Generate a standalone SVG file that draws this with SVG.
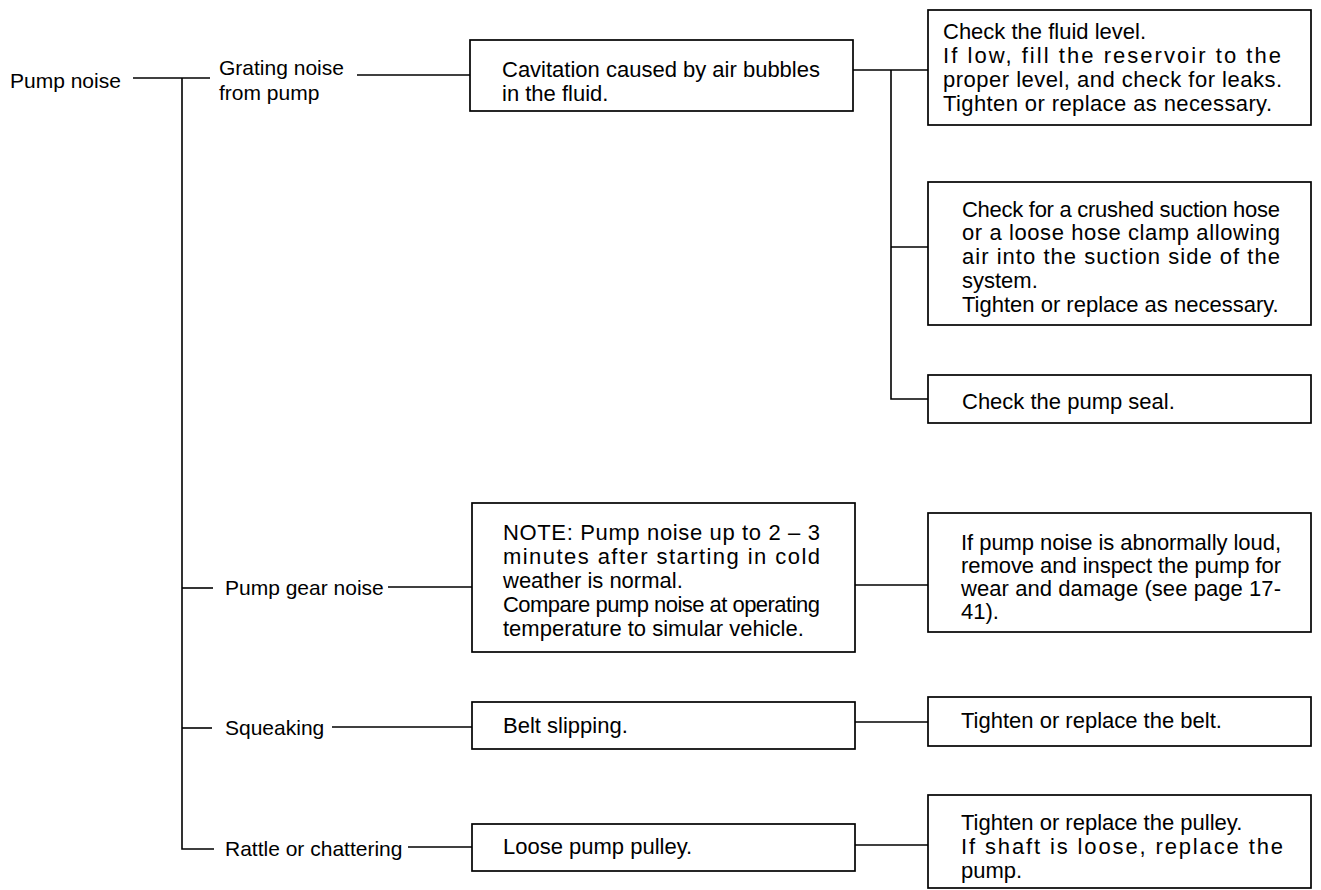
<svg xmlns="http://www.w3.org/2000/svg" width="1321" height="890" viewBox="0 0 1321 890">
<style>
.bg{fill:#fff}
.box{fill:#fff;stroke:#000;stroke-width:1.7}
.ln{stroke:#000;stroke-width:1.6;fill:none}
text{font-family:"Liberation Sans",Arial,Helvetica,sans-serif;fill:#000}
.lbl{font-size:21px}
.bt{font-size:22px}
</style>
<rect class="bg" x="0" y="0" width="1321" height="890"/>
<g id="connectors">
<polyline class="ln" points="133,78 210,78"/>
<polyline class="ln" points="182,78 182,849 214,849"/>
<polyline class="ln" points="182,588 213,588"/>
<polyline class="ln" points="182,728 212,728"/>
<polyline class="ln" points="357,75 470,75"/>
<polyline class="ln" points="853,70 928,70"/>
<polyline class="ln" points="891,70 891,399 928,399"/>
<polyline class="ln" points="891,247 928,247"/>
<polyline class="ln" points="388,587 472,587"/>
<polyline class="ln" points="855,585 928,585"/>
<polyline class="ln" points="332,727 472,727"/>
<polyline class="ln" points="855,722 928,722"/>
<polyline class="ln" points="408,847 472,847"/>
<polyline class="ln" points="855,845 928,845"/>
</g>
<g id="n-pump-noise"><text class="lbl" x="10" y="88">Pump noise</text></g>
<g id="n-grating"><text class="lbl" x="219" y="75">Grating noise</text><text class="lbl" x="219" y="100">from pump</text></g>
<g id="n-gear"><text class="lbl" x="225" y="595">Pump gear noise</text></g>
<g id="n-squeak"><text class="lbl" x="225" y="735">Squeaking</text></g>
<g id="n-rattle"><text class="lbl" x="225" y="856">Rattle or chattering</text></g>
<g id="n-cavitation">
<rect class="box" x="470" y="40" width="383" height="71"/>
<text class="bt" x="502" y="77">Cavitation caused by air bubbles</text>
<text class="bt" x="502" y="101">in the fluid.</text>
</g>
<g id="n-fluid-level">
<rect class="box" x="928" y="10" width="383" height="115"/>
<text class="bt" x="943" y="39">Check the fluid level.</text>
<text class="bt" x="943" y="63" textLength="338" lengthAdjust="spacing">If low, fill the reservoir to the</text>
<text class="bt" x="943" y="87" textLength="339" lengthAdjust="spacing">proper level, and check for leaks.</text>
<text class="bt" x="943" y="111" textLength="329" lengthAdjust="spacing">Tighten or replace as necessary.</text>
</g>
<g id="n-suction">
<rect class="box" x="928" y="182" width="383" height="143"/>
<text class="bt" x="962" y="217" textLength="318" lengthAdjust="spacing">Check for a crushed suction hose</text>
<text class="bt" x="962" y="240" textLength="318" lengthAdjust="spacing">or a loose hose clamp allowing</text>
<text class="bt" x="962" y="264" textLength="318" lengthAdjust="spacing">air into the suction side of the</text>
<text class="bt" x="962" y="288">system.</text>
<text class="bt" x="962" y="312">Tighten or replace as necessary.</text>
</g>
<g id="n-seal">
<rect class="box" x="928" y="375" width="383" height="48"/>
<text class="bt" x="962" y="409">Check the pump seal.</text>
</g>
<g id="n-note">
<rect class="box" x="472" y="503" width="383" height="149"/>
<text class="bt" x="503" y="540" textLength="317" lengthAdjust="spacing">NOTE: Pump noise up to 2 – 3</text>
<text class="bt" x="503" y="564" textLength="317" lengthAdjust="spacing">minutes after starting in cold</text>
<text class="bt" x="503" y="588">weather is normal.</text>
<text class="bt" x="503" y="612" textLength="317" lengthAdjust="spacing">Compare pump noise at operating</text>
<text class="bt" x="503" y="636">temperature to simular vehicle.</text>
</g>
<g id="n-inspect">
<rect class="box" x="928" y="513" width="383" height="119"/>
<text class="bt" x="961" y="550" textLength="320" lengthAdjust="spacing">If pump noise is abnormally loud,</text>
<text class="bt" x="961" y="573" textLength="320" lengthAdjust="spacing">remove and inspect the pump for</text>
<text class="bt" x="961" y="596" textLength="320" lengthAdjust="spacing">wear and damage (see page 17-</text>
<text class="bt" x="961" y="619">41).</text>
</g>
<g id="n-belt-slip">
<rect class="box" x="472" y="702" width="383" height="47"/>
<text class="bt" x="503" y="733">Belt slipping.</text>
</g>
<g id="n-belt-fix">
<rect class="box" x="928" y="697" width="383" height="49"/>
<text class="bt" x="961" y="728">Tighten or replace the belt.</text>
</g>
<g id="n-pulley">
<rect class="box" x="472" y="824" width="383" height="47"/>
<text class="bt" x="503" y="854">Loose pump pulley.</text>
</g>
<g id="n-pulley-fix">
<rect class="box" x="928" y="795" width="383" height="93"/>
<text class="bt" x="961" y="830">Tighten or replace the pulley.</text>
<text class="bt" x="961" y="854" textLength="322" lengthAdjust="spacing">If shaft is loose, replace the</text>
<text class="bt" x="961" y="878">pump.</text>
</g>
</svg>
